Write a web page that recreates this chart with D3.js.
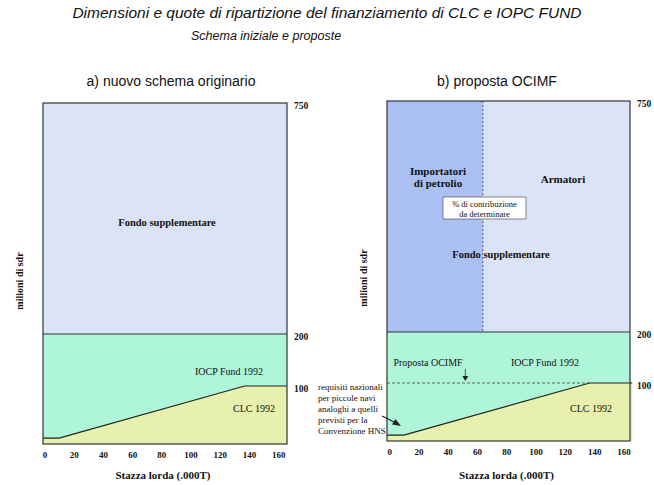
<!DOCTYPE html>
<html>
<head>
<meta charset="utf-8">
<script src="https://cdn.jsdelivr.net/npm/d3@7"></script>
<style>
  body { margin: 0; background: #fff; }
  .serif { font-family: "Liberation Serif", "DejaVu Serif", serif; fill: #111; }
  .sans { font-family: "Liberation Sans", Arial, sans-serif; fill: #111; }
</style>
</head>
<body>
<div id="chart"></div>
<script>
const W = 654, H = 485;

// data
const xTicks = [0, 20, 40, 60, 80, 100, 120, 140, 160];
const yTicks = [100, 200, 750];
const clcX = [0, 10, 137, 166];       // stazza lorda (.000T)
const clcY = [10, 10, 100, 100];      // milioni di sdr (drawing not to scale)
const fundTop = 200;
const suppTop = 750;
const oilShareX = 64;                 // split importatori / armatori
const panelTitles = ["a) nuovo schema originario", "b) proposta OCIMF"];

const colors = {
  supp: "#dbe4f7",
  oil: "#aac0f3",
  fund: "#aef5d9",
  clc: "#e8f0ad",
  line: "#222"
};

const panels = [
  { x0: 43, x1: 287, yr: [444, 386, 334, 103], xd: [-1, 166], title: 171, ocimf: false },
  { x0: 387, x1: 630, yr: [441, 383, 332, 101], xd: [-1.5, 164.5], title: 497, ocimf: true }
];

const svg = d3.select("#chart").append("svg")
  .attr("width", W).attr("height", H);

svg.append("text").attr("class", "sans")
  .attr("x", 327).attr("y", 18)
  .attr("text-anchor", "middle")
  .style("font-style", "italic").style("font-size", "15.5px")
  .text("Dimensioni e quote di ripartizione del finanziamento di CLC e IOPC FUND");

svg.append("text").attr("class", "sans")
  .attr("x", 191).attr("y", 40)
  .style("font-style", "italic").style("font-size", "12.5px")
  .text("Schema iniziale e proposte");

panels.forEach((p, i) => {
  const x = d3.scaleLinear().domain(p.xd).range([p.x0, p.x1]);
  const y = d3.scaleLinear().domain([0, 100, 200, 750]).range(p.yr);
  const g = svg.append("g");
  const xMax = p.xd[1];

  g.append("text").attr("class", "sans")
    .attr("x", p.title).attr("y", 86)
    .attr("text-anchor", "middle").style("font-size", "14px")
    .text(panelTitles[i]);

  // supplementary fund
  g.append("rect")
    .attr("x", x(p.xd[0])).attr("y", y(suppTop))
    .attr("width", x(xMax) - x(p.xd[0])).attr("height", y(fundTop) - y(suppTop))
    .attr("fill", colors.supp);

  if (p.ocimf) {
    g.append("rect")
      .attr("x", x(p.xd[0])).attr("y", y(suppTop))
      .attr("width", x(oilShareX) - x(p.xd[0])).attr("height", y(fundTop) - y(suppTop))
      .attr("fill", colors.oil);
  }

  // IOPC fund area (up to 200)
  g.append("rect")
    .attr("x", x(p.xd[0])).attr("y", y(fundTop))
    .attr("width", x(xMax) - x(p.xd[0])).attr("height", y(0) - y(fundTop))
    .attr("fill", colors.fund);

  // CLC area
  const pts = clcX.map((v, k) => [v, clcY[k]]);
  pts[0][0] = p.xd[0];
  const area = d3.area().x(d => x(d[0])).y0(y(0)).y1(d => y(d[1]));
  g.append("path").datum(pts).attr("d", area).attr("fill", colors.clc);
  g.append("path").datum(pts)
    .attr("d", d3.line().x(d => x(d[0])).y(d => y(d[1])))
    .attr("fill", "none").attr("stroke", colors.line).attr("stroke-width", 1.2);

  // horizontal divider at 200
  g.append("line")
    .attr("x1", x(p.xd[0])).attr("x2", x(xMax))
    .attr("y1", y(fundTop)).attr("y2", y(fundTop))
    .attr("stroke", "#333").attr("stroke-width", 1);

  if (p.ocimf) {
    g.append("line")
      .attr("x1", x(oilShareX)).attr("x2", x(oilShareX))
      .attr("y1", y(suppTop)).attr("y2", y(fundTop))
      .attr("stroke", "#444").attr("stroke-width", 0.8)
      .attr("stroke-dasharray", "2,2");
    g.append("line")
      .attr("x1", x(p.xd[0])).attr("x2", x(clcX[2]))
      .attr("y1", y(100)).attr("y2", y(100))
      .attr("stroke", "#444").attr("stroke-width", 0.8)
      .attr("stroke-dasharray", "3,2");
  }

  // frame
  g.append("rect")
    .attr("x", x(p.xd[0])).attr("y", y(suppTop))
    .attr("width", x(xMax) - x(p.xd[0])).attr("height", y(0) - y(suppTop))
    .attr("fill", "none").attr("stroke", "#333").attr("stroke-width", 1.2);

  // x axis
  const xAxis = d3.axisBottom(x).tickValues(xTicks).tickSize(0).tickPadding(8);
  const xg = g.append("g").attr("transform", `translate(0,${y(0)})`).call(xAxis);
  xg.select(".domain").remove();
  xg.selectAll("text").attr("class", "serif")
    .style("font-size", "9px").style("font-weight", "bold");

  // y axis on the right
  const yAxis = d3.axisRight(y).tickValues(yTicks).tickSize(0).tickPadding(7);
  const yg = g.append("g").attr("transform", `translate(${x(xMax)},0)`).call(yAxis);
  yg.select(".domain").remove();
  yg.selectAll("text").attr("class", "serif")
    .attr("dy", "0.55em")
    .style("font-size", "9.5px").style("font-weight", "bold");

  g.append("text").attr("class", "serif")
    .attr("x", (x(p.xd[0]) + x(xMax)) / 2 - 2).attr("y", 479)
    .attr("text-anchor", "middle")
    .style("font-size", "11px").style("font-weight", "bold")
    .text("Stazza lorda (.000T)");

  const ylx = p.x0 - 20;
  g.append("text").attr("class", "serif")
    .attr("transform", `translate(${ylx},${i ? 278 : 281}) rotate(-90)`)
    .attr("text-anchor", "middle")
    .style("font-size", "10px").style("font-weight", "bold")
    .text("milioni di sdr");

  // area labels
  const lab = (tx, ty, t, bold, size) => g.append("text").attr("class", "serif")
    .attr("x", tx).attr("y", ty).attr("text-anchor", "middle")
    .style("font-size", (size || 10) + "px")
    .style("font-weight", bold ? "bold" : "normal")
    .text(t);

  if (!p.ocimf) {
    lab(167, 226, "Fondo supplementare", true, 10.5);
    lab(229, 375, "IOCP Fund 1992", false, 10);
    lab(254, 412, "CLC 1992", false, 10);
  } else {
    lab(438, 175, "Importatori", true, 11);
    lab(438, 187, "di petrolio", true, 11);
    lab(563, 183, "Armatori", true, 11);
    lab(501, 258, "Fondo supplementare", true, 10.5);
    lab(428, 366, "Proposta OCIMF", false, 10);
    lab(545, 366, "IOCP Fund 1992", false, 10);
    lab(591, 412, "CLC 1992", false, 10);

    g.append("rect")
      .attr("x", 443).attr("y", 197).attr("width", 83).attr("height", 22)
      .attr("fill", "#fff").attr("stroke", "#555").attr("stroke-width", 0.7);
    lab(484.5, 207, "% di contribuzione", false, 8.5);
    lab(484.5, 216.5, "da determinare", false, 8.5);

    // small arrow to the dashed line
    const ax = x(52);
    g.append("line").attr("x1", ax).attr("x2", ax)
      .attr("y1", y(100) - 14).attr("y2", y(100) - 5)
      .attr("stroke", "#333").attr("stroke-width", 0.8);
    g.append("path")
      .attr("d", `M${ax - 3},${y(100) - 7} L${ax + 3},${y(100) - 7} L${ax},${y(100) - 2} Z`)
      .attr("fill", "#222");

    // annotation for small ships
    const note = ["requisiti nazionali", "per piccole navi", "analoghi a quelli",
      "previsti per la", "Convenzione HNS"];
    g.selectAll(".note").data(note).enter().append("text")
      .attr("class", "serif")
      .attr("x", 318).attr("y", (d, k) => 390 + k * 11)
      .style("font-size", "9px")
      .text(d => d);
    g.append("line")
      .attr("x1", 382).attr("y1", 416).attr("x2", 396).attr("y2", 423)
      .attr("stroke", "#222").attr("stroke-width", 1.2);
    g.append("path")
      .attr("d", "M401,426 L392,424.5 L395.5,419 Z")
      .attr("fill", "#222");
  }
});
</script>
</body>
</html>
